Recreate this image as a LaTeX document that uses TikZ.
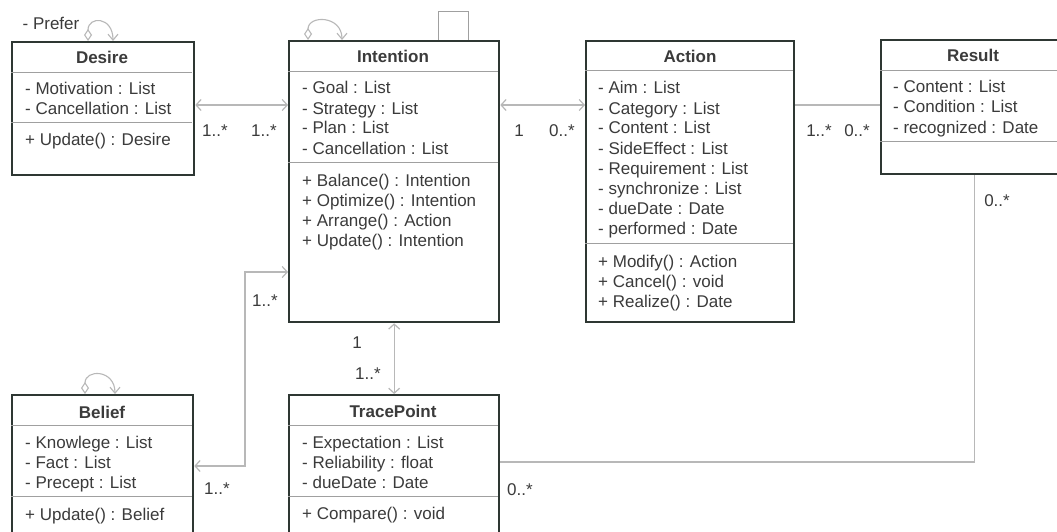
\documentclass[tikz,border=0pt]{standalone}
\usepackage{fontspec}
\setmainfont{Liberation Sans}
\usetikzlibrary{arrows.meta,positioning}

\definecolor{boxline}{HTML}{2E3733}
\definecolor{ink}{HTML}{3B3B3B}
\definecolor{wire}{HTML}{B8B8B8}
\definecolor{rule}{HTML}{A0A0A0}

\def\ux{1pt}
\def\uy{-1pt}
\def\umlfont{\fontsize{17}{20}\selectfont}

\tikzset{
  cls/.style={draw=boxline, line width=2.3pt, rectangle, anchor=north west, inner sep=0pt},
  ctitle/.style={font=\umlfont\bfseries, text=ink, inner sep=0pt, anchor=base},
  member/.style={anchor=base west, text=ink, inner sep=0pt},
  sep/.style={draw=rule, line width=0.9pt},
  assoc/.style={draw=wire, line width=1.2pt},
  both/.style={{Straight Barb[length=5pt,width=11pt]}-{Straight Barb[length=5pt,width=11pt]}},
  selfref/.style={draw=wire, line width=1.1pt, {Diamond[open,length=12pt,width=8pt]}-{Straight Barb[length=6pt,width=10pt]}},
  mult/.style={text=ink, inner sep=0pt, anchor=base},
}

\begin{document}
\begin{tikzpicture}[x=\ux,y=\uy, font=\umlfont]
  \useasboundingbox[fill=white] (0,0) rectangle (1057,532);

  % Desire
  \node[cls, minimum width=182, minimum height=133] (desire) at (11,41) {};
  \node[ctitle] (desire-title) at (102,64) {Desire};
  \draw[sep] (11,72) -- (192,72);
  \foreach \m [count=\i] in {- Motivation : List, - Cancellation : List}
    \node[member] (desire-a\i) at (25,75+20*\i) {\m};
  \draw[sep] (11,122) -- (192,122);
  \node[member] (desire-op1) at (25,146) {+ Update() : Desire};
  \node[mult] (prefer) at (51,30) {- Prefer};
  \draw[selfref] (88,41) .. controls (88,16) and (113,16) .. (113,41);

  % Intention
  \node[cls, minimum width=210, minimum height=281] (intention) at (288,40) {};
  \node[ctitle] (intention-title) at (393,63) {Intention};
  \draw[sep] (288,71) -- (498,71);
  \foreach \m [count=\i] in {- Goal : List, - Strategy : List, - Plan : List, - Cancellation : List}
    \node[member] (intention-a\i) at (302,74+20*\i) {\m};
  \draw[sep] (288,162) -- (498,162);
  \foreach \m [count=\i] in {+ Balance() : Intention, + Optimize() : Intention, + Arrange() : Action, + Update() : Intention}
    \node[member] (intention-op\i) at (302,166+20*\i) {\m};
  \draw[selfref] (308,40) .. controls (308,15) and (342,15) .. (342,40);
  \draw[draw=rule, line width=1pt] (438,40) -- (438,12) -- (468,12) -- (468,40);

  % Action
  \node[cls, minimum width=208, minimum height=281] (action) at (585,40) {};
  \node[ctitle] (action-title) at (690,63) {Action};
  \draw[sep] (585,70) -- (793,70);
  \foreach \m [count=\i] in {- Aim : List, - Category : List, - Content : List, - SideEffect : List,
      - Requirement : List, - synchronize : List, - dueDate : Date, - performed : Date}
    \node[member] (action-a\i) at (598,74+20*\i) {\m};
  \draw[sep] (585,243) -- (793,243);
  \foreach \m [count=\i] in {+ Modify() : Action, + Cancel() : void, + Realize() : Date}
    \node[member] (action-op\i) at (598,247+20*\i) {\m};

  % Result
  \node[cls, minimum width=186, minimum height=134] (result) at (880,39) {};
  \node[ctitle] (result-title) at (973,62) {Result};
  \draw[sep] (880,70) -- (1066,70);
  \foreach \m [count=\i] in {- Content : List, - Condition : List, - recognized : Date}
    \node[member] (result-a\i) at (893,73+20*\i) {\m};
  \draw[sep] (880,141) -- (1066,141);

  % Belief
  \node[cls, minimum width=181, minimum height=150] (belief) at (11,394) {};
  \node[ctitle] (belief-title) at (102,418) {Belief};
  \draw[sep] (11,425) -- (192,425);
  \foreach \m [count=\i] in {- Knowlege : List, - Fact : List, - Precept : List}
    \node[member] (belief-a\i) at (25,428+20*\i) {\m};
  \draw[sep] (11,496) -- (192,496);
  \node[member] (belief-op1) at (25,520) {+ Update() : Belief};
  \draw[selfref] (85,394) .. controls (85,369) and (115,369) .. (115,394);

  % TracePoint
  \node[cls, minimum width=210, minimum height=150] (tracepoint) at (288,394) {};
  \node[ctitle] (tracepoint-title) at (393,417) {TracePoint};
  \draw[sep] (288,425) -- (498,425);
  \foreach \m [count=\i] in {- Expectation : List, - Reliability : float, - dueDate : Date}
    \node[member] (tracepoint-a\i) at (302,428+20*\i) {\m};
  \draw[sep] (288,496) -- (498,496);
  \node[member] (tracepoint-op1) at (302,519) {+ Compare() : void};

  % associations
  \draw[assoc, both] (desire.east |- 0,105) -- (intention.west |- 0,105);
  \draw[assoc, both] (intention.east |- 0,105) -- (action.west |- 0,105);
  \draw[assoc] (action.east |- 0,105) -- (result.west |- 0,105);
  \draw[assoc, both] (intention.south) -- (tracepoint.north);
  \draw[assoc, both] (belief.east |- 0,466) -- (245,466) |- (intention.west |- 0,272);
  \draw[assoc] (tracepoint.east |- 0,462) -| (result.south);

  % multiplicities
  \node[mult] at (215,136) {1..*};
  \node[mult] at (264,136) {1..*};
  \node[mult] at (519,136) {1};
  \node[mult] at (562,136) {0..*};
  \node[mult] at (819,137) {1..*};
  \node[mult] at (857,137) {0..*};
  \node[mult] at (997,206) {0..*};
  \node[mult] at (357,348) {1};
  \node[mult] at (368,379) {1..*};
  \node[mult] at (265,306) {1..*};
  \node[mult] at (217,494) {1..*};
  \node[mult] at (520,495) {0..*};
\end{tikzpicture}
\end{document}
